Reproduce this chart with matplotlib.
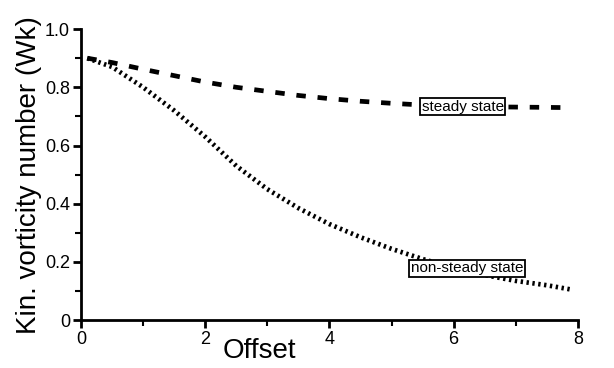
import matplotlib
matplotlib.use("Agg")
from matplotlib import pyplot as plt
from matplotlib.ticker import MultipleLocator

# ------------ data
offset = [0.1, 0.5, 1.0, 1.5, 2.0, 2.5, 3.0, 3.5, 4.0, 4.5, 5.0, 5.5, 6.0, 6.5, 7.0, 7.5, 7.9]
steady = [0.90, 0.885, 0.862, 0.84, 0.818, 0.80, 0.786, 0.772, 0.761, 0.752,
          0.745, 0.739, 0.735, 0.733, 0.732, 0.731, 0.730]
non_steady = [0.90, 0.87, 0.80, 0.72, 0.63, 0.53, 0.45, 0.385, 0.33, 0.285,
              0.245, 0.21, 0.18, 0.155, 0.135, 0.12, 0.105]

x_ticks = [0, 2, 4, 6, 8]
y_ticks = [0, 0.2, 0.4, 0.6, 0.8, 1.0]
y_tick_labels = ["0", "0.2", "0.4", "0.6", "0.8", "1.0"]

plt.rcParams['font.family'] = ['Liberation Sans', 'DejaVu Sans']

fig = plt.figure(figsize=(6.14, 3.68), dpi=100)
ax = fig.add_axes([0.132, 0.130, 0.809, 0.791])

ax.plot(offset, steady, color='black', linewidth=3.4, linestyle=(0, (2.0, 2.5)))
ax.plot(offset, non_steady, color='black', linewidth=3.4, linestyle=(0, (0.5, 0.75)))

box = dict(boxstyle='square,pad=0.1', facecolor='white', edgecolor='black', linewidth=1.3)
ax.text(6.15, 0.733, "steady state", fontsize=11, ha='center', va='center', bbox=box)
ax.text(6.22, 0.178, "non-steady state", fontsize=11, ha='center', va='center', bbox=box)

ax.set_xlim(0, 8)
ax.set_ylim(0, 1.0)
ax.set_xticks(x_ticks)
ax.set_yticks(y_ticks)
ax.set_yticklabels(y_tick_labels)
ax.xaxis.set_minor_locator(MultipleLocator(1))
ax.yaxis.set_minor_locator(MultipleLocator(0.1))

for side in ['top', 'right']:
    ax.spines[side].set_visible(False)
for side in ['left', 'bottom']:
    ax.spines[side].set_linewidth(2)

ax.tick_params(which='major', direction='out', length=6, width=2, labelsize=13, pad=2)
ax.tick_params(which='minor', direction='out', length=4, width=1.5)

ax.set_xlabel('Offset', fontsize=20, va='center')
ax.xaxis.set_label_coords(0.36, -0.105)
ax.set_ylabel('Kin. vorticity number (Wk)', fontsize=20, labelpad=2)

fig.savefig('out.png', dpi=100)
